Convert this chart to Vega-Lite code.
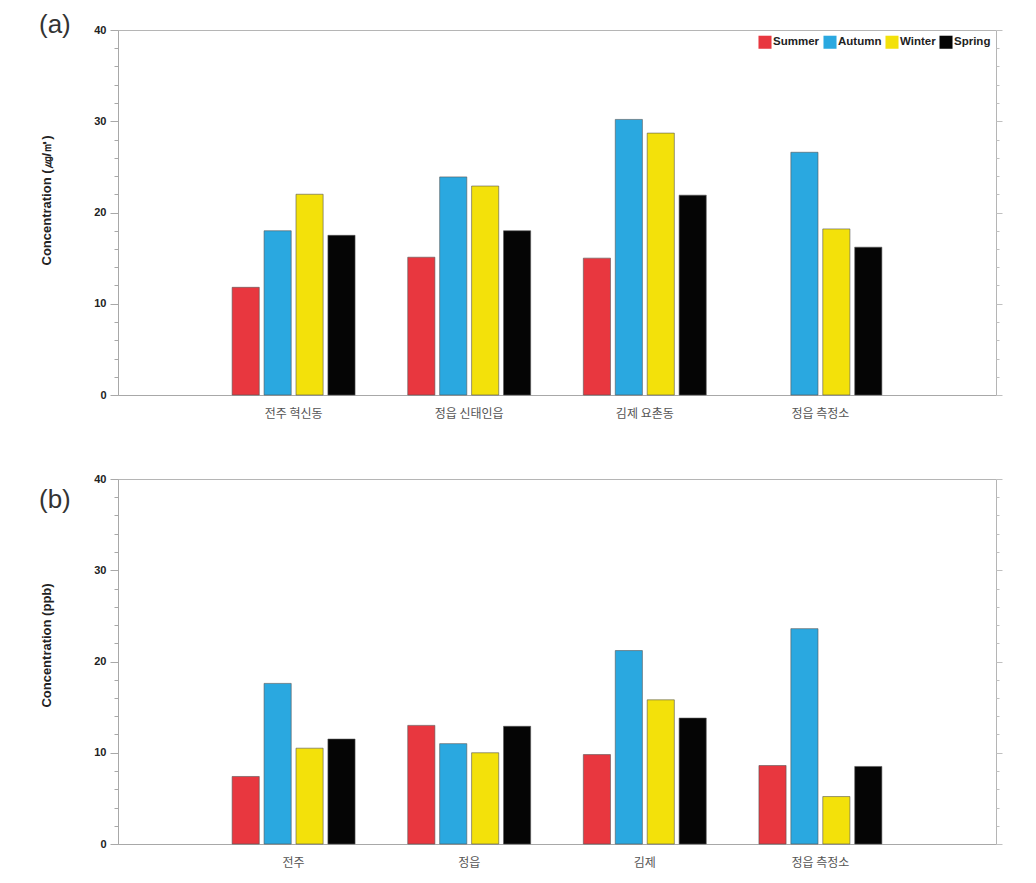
{
 "$schema": "https://vega.github.io/schema/vega-lite/v6.json",
 "background": "white",
 "padding": {"left": 38, "top": 11, "right": 34, "bottom": 10},
 "spacing": 52,
 "datasets": {
  "a": [
   {"site": "전주 혁신동", "season": "Summer", "value": 11.8},
   {"site": "전주 혁신동", "season": "Autumn", "value": 18.0},
   {"site": "전주 혁신동", "season": "Winter", "value": 22.0},
   {"site": "전주 혁신동", "season": "Spring", "value": 17.5},
   {"site": "정읍 신태인읍", "season": "Summer", "value": 15.1},
   {"site": "정읍 신태인읍", "season": "Autumn", "value": 23.9},
   {"site": "정읍 신태인읍", "season": "Winter", "value": 22.9},
   {"site": "정읍 신태인읍", "season": "Spring", "value": 18.0},
   {"site": "김제 요촌동", "season": "Summer", "value": 15.0},
   {"site": "김제 요촌동", "season": "Autumn", "value": 30.2},
   {"site": "김제 요촌동", "season": "Winter", "value": 28.7},
   {"site": "김제 요촌동", "season": "Spring", "value": 21.9},
   {"site": "정읍 측정소", "season": "Autumn", "value": 26.6},
   {"site": "정읍 측정소", "season": "Winter", "value": 18.2},
   {"site": "정읍 측정소", "season": "Spring", "value": 16.2}
  ],
  "b": [
   {"site": "전주", "season": "Summer", "value": 7.4},
   {"site": "전주", "season": "Autumn", "value": 17.6},
   {"site": "전주", "season": "Winter", "value": 10.5},
   {"site": "전주", "season": "Spring", "value": 11.5},
   {"site": "정읍", "season": "Summer", "value": 13.0},
   {"site": "정읍", "season": "Autumn", "value": 11.0},
   {"site": "정읍", "season": "Winter", "value": 10.0},
   {"site": "정읍", "season": "Spring", "value": 12.9},
   {"site": "김제", "season": "Summer", "value": 9.8},
   {"site": "김제", "season": "Autumn", "value": 21.2},
   {"site": "김제", "season": "Winter", "value": 15.8},
   {"site": "김제", "season": "Spring", "value": 13.8},
   {"site": "정읍 측정소", "season": "Summer", "value": 8.6},
   {"site": "정읍 측정소", "season": "Autumn", "value": 23.6},
   {"site": "정읍 측정소", "season": "Winter", "value": 5.2},
   {"site": "정읍 측정소", "season": "Spring", "value": 8.5}
  ]
 },
 "config": {
  "view": {"stroke": "#b5b5b5", "strokeWidth": 1},
  "axis": {"grid": false, "domainColor": "#a8a8a8", "tickColor": "#a8a8a8", "labelFont": "Liberation Sans", "titleFont": "Liberation Sans"},
  "legend": {"labelFont": "Liberation Sans", "labelFontWeight": "bold", "labelFontSize": 11.5, "labelColor": "#222", "symbolType": "square", "symbolSize": 170, "symbolStrokeWidth": 0, "columnPadding": 3, "labelOffset": 1, "padding": 0},
  "title": {"font": "Liberation Sans"}
 },
 "vconcat": [
  {
   "width": 878,
   "height": 365,
   "data": {"name": "a"},
   "title": {"text": "(a)", "anchor": "start", "frame": "group", "dx": -79, "offset": -14, "fontSize": 26, "fontWeight": "normal", "color": "#333"},
   "resolve": {"axis": {"y": "independent"}},
   "layer": [
    {
     "mark": {"type": "bar", "stroke": "#555", "strokeWidth": 0.6},
     "encoding": {
      "x": {"field": "site", "type": "nominal", "sort": ["전주 혁신동", "정읍 신태인읍", "김제 요촌동", "정읍 측정소"], "scale": {"paddingInner": 0.3, "paddingOuter": 0.65},
       "axis": {"title": null, "labelAngle": 0, "ticks": false, "labelFont": "Noto Sans CJK KR", "labelFontSize": 12, "labelColor": "#555", "labelPadding": 13}},
      "xOffset": {"field": "season", "type": "nominal", "sort": ["Summer", "Autumn", "Winter", "Spring"], "scale": {"paddingInner": 0.15}},
      "y": {"field": "value", "type": "quantitative", "scale": {"domain": [0, 40]},
       "axis": {"title": "Concentration (㎍/㎥)", "titleFontSize": 13, "titleFontWeight": "bold", "titleColor": "#222", "titlePadding": 40, "titleY": 170,
        "values": [0,2,4,6,8,10,12,14,16,18,20,22,24,26,28,30,32,34,36,38,40],
        "labelExpr": "datum.value % 10 === 0 ? datum.label : ''", "labelFontWeight": "bold", "labelFontSize": 11, "labelColor": "#222", "labelOverlap": false, "labelPadding": 4,
        "tickSize": {"condition": {"test": "datum.value % 10 === 0", "value": 8}, "value": 4}}},
      "color": {"field": "season", "type": "nominal", "sort": ["Summer", "Autumn", "Winter", "Spring"],
       "scale": {"domain": ["Summer", "Autumn", "Winter", "Spring"], "range": ["#e8373f", "#2aa8e0", "#f3e10a", "#050505"]},
       "legend": {"title": null, "orient": "top-right", "direction": "horizontal", "offset": 5}}
     }
    },
    {
     "mark": {"type": "bar", "opacity": 0},
     "encoding": {
      "x": {"field": "site", "type": "nominal", "sort": ["전주 혁신동", "정읍 신태인읍", "김제 요촌동", "정읍 측정소"]},
      "xOffset": {"field": "season", "type": "nominal", "sort": ["Summer", "Autumn", "Winter", "Spring"]},
      "y": {"field": "value", "type": "quantitative", "scale": {"domain": [0, 40]},
       "axis": {"orient": "right", "title": null, "labels": false, "domain": false,
        "values": [0,2,4,6,8,10,12,14,16,18,20,22,24,26,28,30,32,34,36,38,40],
        "tickColor": "#c0c0c0",
        "tickSize": {"condition": {"test": "datum.value % 10 === 0", "value": 6}, "value": 3}}}
     }
    }
   ]
  },
  {
   "width": 878,
   "height": 365,
   "data": {"name": "b"},
   "title": {"text": "(b)", "anchor": "start", "frame": "group", "dx": -79, "offset": -40, "fontSize": 26, "fontWeight": "normal", "color": "#333"},
   "resolve": {"axis": {"y": "independent"}},
   "layer": [
    {
     "mark": {"type": "bar", "stroke": "#555", "strokeWidth": 0.6},
     "encoding": {
      "x": {"field": "site", "type": "nominal", "sort": ["전주", "정읍", "김제", "정읍 측정소"], "scale": {"paddingInner": 0.3, "paddingOuter": 0.65},
       "axis": {"title": null, "labelAngle": 0, "ticks": false, "labelFont": "Noto Sans CJK KR", "labelFontSize": 12, "labelColor": "#555", "labelPadding": 13}},
      "xOffset": {"field": "season", "type": "nominal", "sort": ["Summer", "Autumn", "Winter", "Spring"], "scale": {"paddingInner": 0.15}},
      "y": {"field": "value", "type": "quantitative", "scale": {"domain": [0, 40]},
       "axis": {"title": "Concentration (ppb)", "titleFontSize": 13, "titleFontWeight": "bold", "titleColor": "#222", "titlePadding": 40, "titleY": 166,
        "values": [0,2,4,6,8,10,12,14,16,18,20,22,24,26,28,30,32,34,36,38,40],
        "labelExpr": "datum.value % 10 === 0 ? datum.label : ''", "labelFontWeight": "bold", "labelFontSize": 11, "labelColor": "#222", "labelOverlap": false, "labelPadding": 4,
        "tickSize": {"condition": {"test": "datum.value % 10 === 0", "value": 8}, "value": 4}}},
      "color": {"field": "season", "type": "nominal", "sort": ["Summer", "Autumn", "Winter", "Spring"],
       "scale": {"domain": ["Summer", "Autumn", "Winter", "Spring"], "range": ["#e8373f", "#2aa8e0", "#f3e10a", "#050505"]},
       "legend": {"title": null, "orient": "top-right", "direction": "horizontal", "offset": 5}}
     }
    },
    {
     "mark": {"type": "bar", "opacity": 0},
     "encoding": {
      "x": {"field": "site", "type": "nominal", "sort": ["전주", "정읍", "김제", "정읍 측정소"]},
      "xOffset": {"field": "season", "type": "nominal", "sort": ["Summer", "Autumn", "Winter", "Spring"]},
      "y": {"field": "value", "type": "quantitative", "scale": {"domain": [0, 40]},
       "axis": {"orient": "right", "title": null, "labels": false, "domain": false,
        "values": [0,2,4,6,8,10,12,14,16,18,20,22,24,26,28,30,32,34,36,38,40],
        "tickColor": "#c0c0c0",
        "tickSize": {"condition": {"test": "datum.value % 10 === 0", "value": 6}, "value": 3}}}
     }
    }
   ]
  }
 ]
}
